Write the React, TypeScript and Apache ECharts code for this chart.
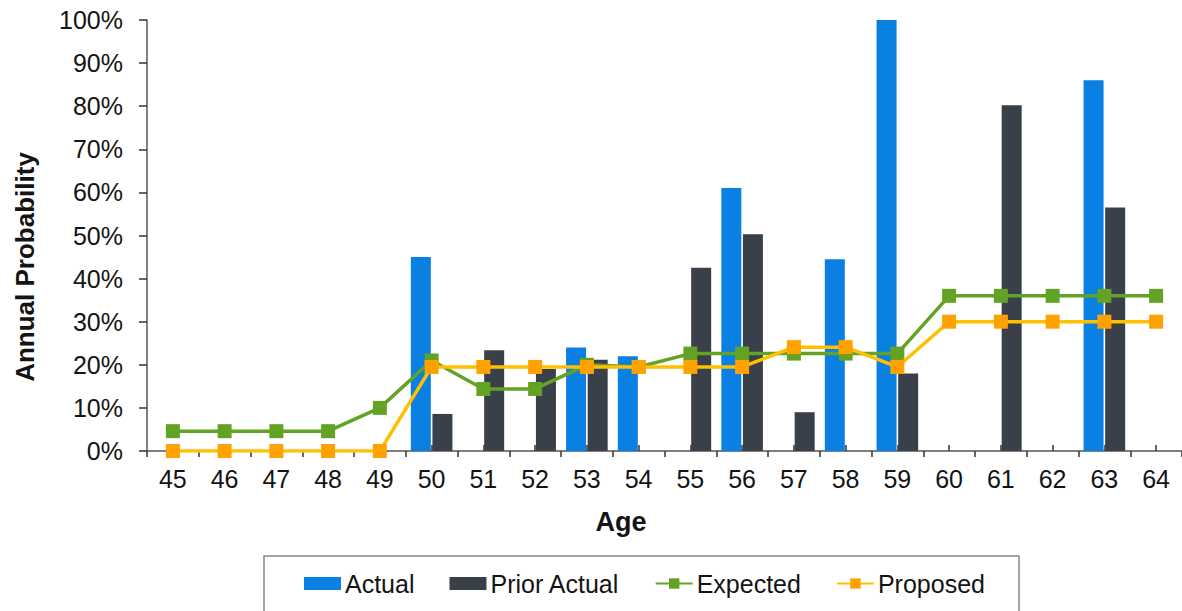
import React, { useEffect, useRef } from "react";
import * as echarts from "echarts";

const ages = ["45","46","47","48","49","50","51","52","53","54","55","56","57","58","59","60","61","62","63","64"];
const actual = [null,null,null,null,null,45,null,null,24,22,null,61,null,44.5,100,null,null,null,86,null];
const priorActual = [null,null,null,null,null,8.6,23.4,19,21.2,null,42.5,50.3,9,null,18,null,80.2,null,56.5,null];
const expected = [4.6,4.6,4.6,4.6,10,21,14.4,14.4,20,19.5,22.6,22.6,22.6,22.6,22.6,36,36,36,36,36];
const proposed = [0,0,0,0,0,19.5,19.5,19.5,19.5,19.5,19.5,19.5,24.1,24.1,19.5,30,30,30,30,30];
const yTicks = [0,10,20,30,40,50,60,70,80,90,100];

const FONT = "'Liberation Sans', Arial, sans-serif";
const TXT = "#141414";

export default function App() {
  const ref = useRef<HTMLDivElement>(null);
  useEffect(() => {
    const chart = echarts.init(ref.current!, null, { renderer: "svg" });
    const option: any = {
      animation: false,
      backgroundColor: "#ffffff",
      textStyle: { fontFamily: FONT },
      grid: { left: 147, top: 20, width: 1037, height: 431, containLabel: false },
      xAxis: [
        {
          type: "category",
          data: ages,
          boundaryGap: true,
          axisLine: { lineStyle: { color: "#555", width: 1.5 } },
          axisTick: { show: true, length: 6, lineStyle: { color: "#333", width: 1.5 } },
          axisLabel: { color: TXT, fontSize: 25, fontFamily: FONT, margin: 15 },
        },
        {
          type: "category",
          data: ages,
          position: "bottom",
          boundaryGap: true,
          axisLine: { show: false },
          axisTick: { show: true, alignWithLabel: true, inside: true, length: 6, lineStyle: { color: "#333", width: 1.5 } },
          axisLabel: { show: false },
        },
      ],
      yAxis: {
        type: "value",
        min: 0,
        max: 100,
        interval: 10,
        splitLine: { show: false },
        axisLine: { show: true, lineStyle: { color: "#555", width: 1.5 } },
        axisTick: { show: true, length: 8, lineStyle: { color: "#333", width: 1.5 } },
        axisLabel: {
          color: TXT, fontSize: 25, fontFamily: FONT, margin: 24,
          formatter: (v: number) => (yTicks.includes(v) ? v + "%" : ""),
        },
      },
      legend: {
        left: 299,
        top: 566,
        itemWidth: 37,
        itemHeight: 13,
        itemGap: 35,
        textStyle: { color: TXT, fontSize: 25, fontFamily: FONT, padding: [0, 0, 0, -1] },
        data: [
          { name: "Actual", icon: "rect" },
          { name: "Prior Actual", icon: "rect" },
          { name: "Expected", itemStyle: { color: "#62a224" } },
          { name: "Proposed", itemStyle: { color: "#ffa200" } },
        ],
      },
      graphic: [
        {
          type: "rect",
          shape: { x: 264, y: 556, width: 755, height: 80 },
          style: { fill: "none", stroke: "#888", lineWidth: 1.5 },
          silent: true,
        },
        {
          type: "text",
          x: 621,
          y: 522,
          style: { text: "Age", fontSize: 27, fontWeight: "bold", fontFamily: FONT, fill: TXT, textAlign: "center", textVerticalAlign: "middle" },
        },
        {
          type: "text",
          x: 25,
          y: 267,
          rotation: Math.PI / 2,
          style: { text: "Annual Probability", fontSize: 26, fontWeight: "bold", fontFamily: FONT, fill: TXT, textAlign: "center", textVerticalAlign: "middle" },
        },
      ],
      series: [
        {
          name: "Actual",
          type: "bar",
          data: actual,
          barWidth: 20,
          barGap: "8%",
          itemStyle: { color: "#0a80e2" },
        },
        {
          name: "Prior Actual",
          type: "bar",
          data: priorActual,
          barWidth: 20,
          barGap: "8%",
          itemStyle: { color: "#3a404a" },
        },
        {
          name: "Expected",
          type: "line",
          data: expected,
          symbol: "rect",
          symbolSize: 14,
          lineStyle: { color: "#62a224", width: 3.5 },
          itemStyle: { color: "#62a224" },
          z: 3,
        },
        {
          name: "Proposed",
          type: "line",
          data: proposed,
          symbol: "rect",
          symbolSize: 14,
          lineStyle: { color: "#ffc000", width: 3.5 },
          itemStyle: { color: "#ffa200" },
          z: 4,
        },
      ],
    };
    chart.setOption(option);
    return () => chart.dispose();
  }, []);
  return <div ref={ref} style={{ width: 1182, height: 611, position: "absolute", left: 0, top: 0 }} />;
}
